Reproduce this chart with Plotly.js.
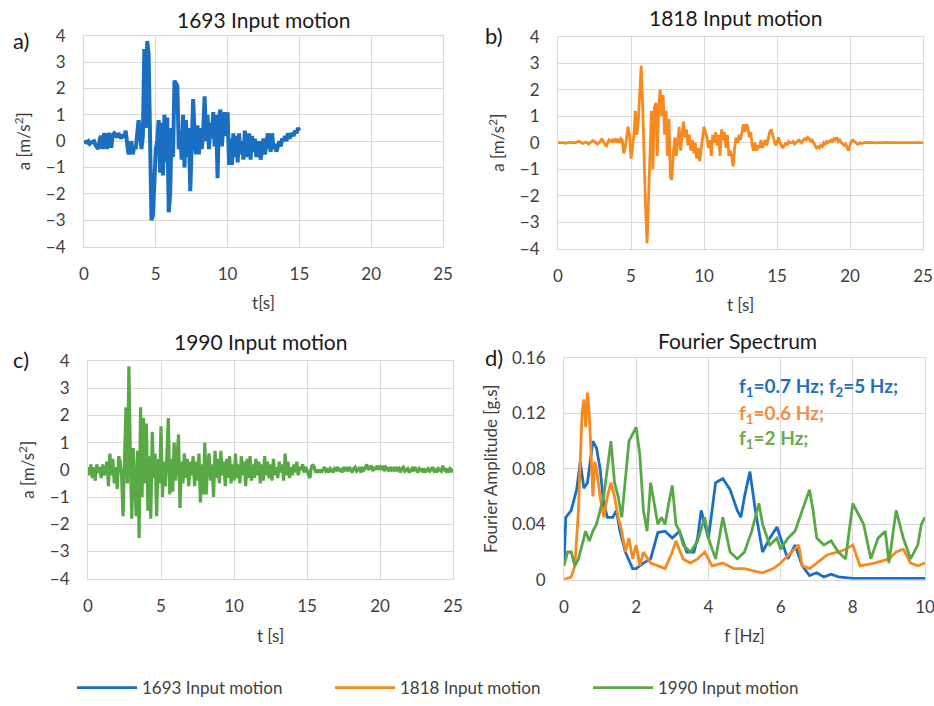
<!DOCTYPE html>
<html>
<head>
<meta charset="utf-8">
<script src="https://cdn.plot.ly/plotly-3.0.1.min.js"></script>
<style>html,body{margin:0;padding:0;background:#fff;}#chart{width:934px;height:706px;}</style>
</head>
<body>
<div id="chart"></div>
<script>
// ---- Data ----
const seriesNames = ["1693 Input motion", "1818 Input motion", "1990 Input motion"];
const dtSeconds = 0.1;

// 1693 acceleration [m/s2], sampled every 0.1 s from t = 0 to 15 s
const acc1693 = [
  0, -0.05, -0.05, 0, -0.1, -0.05, 0, 0, -0.15, -0.2,
  -0.3, 0.1, 0.2, -0.3, 0.3, 0.1, -0.3, 0.3, 0.2, -0.25,
  0.25, 0.3, 0.2, 0.15, 0.3, 0.2, 0.1, 0.25, 0.15, 0.4,
  -0.1, -0.5, -0.3, 0, -0.5, -0.2, -0.3, 0.2, 0.8, 0.3,
  -0.3, 0.2, 3.5, 0.5, 3.8, 3.3, -1.4, -3.0, -2.8, -1.0,
  -0.3, 0.0, 0.8, -1.2, 0.7, -1.3, 1.0, -0.8, 0.9, -2.7,
  -2.0, 0.5, -0.6, 2.3, 2.2, 2.1, -0.3, 0.4, -0.7, 1.0,
  -1.0, 0.8, -0.6, 0.5, -1.9, 0.2, 1.6, 0.3, -0.5, 0.6,
  -0.5, 0.5, -0.3, 0.4, 1.7, 0.0, 1.0, -0.3, 0.7, 0.1,
  1.1, -0.2, 1.0, -1.4, 0.9, 1.2, -0.2, 0.6, 1.1, 0.2,
  1.1, -0.9, 0.1, -0.9, 0.3, -0.6, 0.2, -0.8, 0.3, -0.5,
  0.0, -0.7, 0.4, -0.3, -0.6, 0.3, -0.7, 0.2, -0.4, 0.1,
  -0.6, -0.2, 0.0, -0.7, -0.3, 0.1, -0.5, -0.2, 0.3, -0.1,
  -0.4, 0.3, -0.3, -0.1, -0.4, -0.2, 0.0, -0.2, 0.1, 0.0,
  0.2, 0.0, 0.3, 0.1, 0.2, 0.3, 0.2, 0.4, 0.3, 0.5,
  0.4
];

// 1818 acceleration [m/s2], sampled every 0.1 s from t = 0 to 25 s
const acc1818 = [
  0, 0, 0, 0.02, 0, -0.02, 0, 0, 0.02, 0,
  0, -0.02, 0, 0.02, 0.05, 0.03, 0, -0.03, 0, 0.02,
  0, -0.05, 0, 0.05, 0.08, 0.05, 0, -0.05, 0, 0.05,
  0.15, 0.05, -0.1, -0.15, 0, 0.1, 0.05, 0.1, 0.02, 0.15,
  0.05, 0.1, 0, 0.15, 0.1, -0.4, -0.2, 0.2, 0.6, 0.3,
  -0.6, -0.2, 0.3, 1.2, 0.3, 0.8, 2.2, 2.9, 1.4, -0.8,
  -2.5, -3.8, -2.0, -0.5, 1.2, -1.0, 1.3, 1.5, -0.5, 1.4,
  2.0, 1.0, 1.8, 0.3, 1.2, -0.5, 0.9, -1.3, -1.4, -0.4,
  0.2, -0.5, 0.1, 0.6, -0.3, 0.3, 0.8, 0.2, 0.5, -0.1,
  0.3, -0.3, 0.1, -0.4, 0.0, -0.6, -0.2, -0.7, -0.3, 0.1,
  0.6, 0.4, 0.2, -0.2, 0.1, -0.5, 0.3, 0.0, 0.4, -0.1,
  0.3, -0.5, 0.5, 0.1, 0.4, -0.2, 0.3, -0.5, -0.3, -0.5,
  -0.9, -0.2, 0.2, 0.0, 0.3, 0.1, 0.5, 0.7, 0.4, 0.7,
  0.6, 0.2, 0.4, -0.1, -0.3, 0.0, -0.3, -0.1, -0.2, 0.1,
  -0.2, 0.0, 0.1, -0.1, 0.2, 0.4, 0.5, 0.3, 0.1, -0.1,
  0.0, 0.2, 0.0, -0.1, -0.2, -0.1, 0.0, -0.1, 0.05, 0.0,
  0.0, 0.05, -0.05, 0.0, 0.05, 0.1, 0.05, 0.0, 0.1, 0.15,
  0.1, 0.2, 0.15, 0.05, 0.1, 0.0, -0.1, -0.2, -0.15, -0.2,
  -0.1, -0.15, 0.0, -0.05, 0.05, 0.0, 0.05, 0.1, 0.05, 0.15,
  0.1, 0.2, 0.05, 0.1, 0.0, -0.05, -0.1, -0.05, -0.2, -0.3,
  -0.1, 0.05, 0.1, 0.05, 0.0, -0.05, -0.05, 0.0, -0.03, 0.0,
  0, 0.01, 0, -0.01, 0, 0.01, 0, 0, -0.01, 0,
  0.01, 0, 0, -0.01, 0, 0.01, 0, -0.01, 0, 0,
  0, 0.01, 0, 0, -0.01, 0, 0.01, 0, 0, -0.01,
  0, 0, 0.01, 0, -0.01, 0, 0, 0.01, 0, 0,
  0
];

// 1990 acceleration [m/s2], sampled every 0.1 s from t = 0 to 25 s
const acc1990 = [
  0.1, -0.2, 0.2, -0.3, 0.1, -0.4, 0.2, -0.1, 0.1, -0.3,
  0.2, -0.2, 0.0, 0.3, -0.6, 0.6, -0.2, 0.4, -0.5, 0.1,
  -0.7, 0.5, 0.3, -0.2, -1.7, 0.2, 2.3, -0.5, 3.8, 0.5,
  -1.8, 0.8, -0.5, -1.7, 0.7, -2.5, 2.3, -1.0, 1.9, -0.5,
  1.7, -1.5, 0.5, -1.8, 1.4, -0.3, 0.6, -1.7, 0.4, -0.5,
  1.6, -1.0, 0.3, -0.6, 0.5, 1.9, -0.9, 0.4, -0.8, 1.0,
  -0.4, 0.5, 1.3, -1.4, 0.3, -0.5, 0.6, -0.3, 0.4, -0.6,
  0.3, -0.2, 0.5, -0.6, 0.3, -0.4, 0.6, -1.2, 0.2, -0.9,
  1.0, -0.9, 0.3, 0.6, -0.4, 0.2, -1.0, 0.7, -0.3, 0.4,
  -0.5, 0.7, -0.2, 0.3, -0.6, 0.4, -0.3, 0.5, -0.5, 0.2,
  -0.4, 0.6, -0.3, 0.2, -0.5, 0.5, -0.2, 0.3, -0.6, 0.4,
  -0.3, 0.5, -0.4, 0.2, -0.3, 0.4, -0.2, 0.3, -0.5, 0.2,
  -0.4, 0.5, -0.2, 0.3, -0.3, 0.2, -0.4, 0.4, -0.2, 0.1,
  -0.3, 0.3, -0.1, 0.2, -0.4, 0.6, -0.2, 0.3, -0.3, 0.1,
  -0.2, 0.2, -0.1, 0.3, -0.2, 0.1, 0.0, 0.2, -0.1, 0.1,
  0.0, -0.2, -0.3, 0.1, 0.2, 0.1, -0.1, 0.0, -0.1, 0.0,
  -0.1, 0.0, 0.1, -0.05, 0.0, -0.1, 0.05, 0.0, -0.1, 0.05,
  0.0, 0.1, -0.05, 0.05, -0.1, 0.1, 0.0, 0.05, -0.05, 0.1,
  0.0, -0.1, 0.05, 0.1, -0.05, 0.0, 0.1, -0.1, 0.05, 0.0,
  0.1, 0.2, 0.0, 0.1, 0.15, -0.05, 0.1, 0.0, 0.15, 0.05,
  0.1, 0.0, 0.15, -0.05, 0.1, 0.05, -0.05, 0.1, 0.0, 0.05,
  -0.05, 0.1, 0.0, 0.05, -0.1, 0.05, 0.1, -0.05, 0.0, 0.05,
  -0.1, 0.0, 0.05, -0.05, 0.1, 0.0, -0.1, 0.05, 0.0, -0.05,
  0.05, -0.1, 0.0, 0.05, -0.05, 0.0, 0.1, -0.05, 0.0, -0.1,
  0.05, 0.0, -0.05, 0.15, 0.0, -0.05, 0.05, -0.1, 0.05, 0.0,
  -0.1
];

// Fourier spectra [g.s] vs frequency [Hz]
const freq1693 = [0, 0.05, 0.2, 0.35, 0.45, 0.55, 0.65, 0.8, 0.9, 1.0, 1.1, 1.2, 1.35, 1.45, 1.55, 1.7, 1.9, 2.0, 2.2, 2.4, 2.6, 2.8, 3.0, 3.2, 3.4, 3.6, 3.7, 3.8, 4.0, 4.2, 4.4, 4.6, 4.8, 4.9, 5.0, 5.15, 5.3, 5.5, 5.7, 5.9, 6.0, 6.2, 6.4, 6.6, 6.8, 7.0, 7.2, 7.4, 7.6, 8.0, 9.0, 10.0];
const amp1693  = [0.011, 0.045, 0.05, 0.065, 0.085, 0.066, 0.07, 0.1, 0.095, 0.08, 0.055, 0.045, 0.045, 0.05, 0.035, 0.02, 0.008, 0.008, 0.012, 0.015, 0.034, 0.035, 0.03, 0.035, 0.02, 0.02, 0.03, 0.05, 0.03, 0.07, 0.073, 0.065, 0.05, 0.045, 0.06, 0.078, 0.05, 0.02, 0.03, 0.038, 0.03, 0.015, 0.025, 0.01, 0.003, 0.005, 0.002, 0.004, 0.002, 0.001, 0.001, 0.001];

const freq1818 = [0, 0.2, 0.3, 0.4, 0.5, 0.55, 0.6, 0.65, 0.7, 0.75, 0.8, 0.85, 0.9, 1.0, 1.1, 1.2, 1.3, 1.4, 1.5, 1.6, 1.7, 1.8, 1.9, 2.0, 2.1, 2.2, 2.4, 2.6, 2.8, 3.0, 3.1, 3.3, 3.5, 3.7, 3.9, 4.1, 4.4, 4.7, 5.0, 5.3, 5.5, 5.8, 6.0, 6.3, 6.5, 6.6, 6.8, 7.0, 7.3, 7.6, 7.8, 8.0, 8.2, 8.6, 9.0, 9.2, 9.4, 9.6, 9.8, 10.0];
const amp1818  = [0.0, 0.002, 0.01, 0.05, 0.12, 0.13, 0.11, 0.135, 0.12, 0.09, 0.06, 0.085, 0.08, 0.06, 0.045, 0.06, 0.07, 0.06, 0.045, 0.035, 0.02, 0.03, 0.015, 0.025, 0.01, 0.02, 0.012, 0.01, 0.008, 0.02, 0.028, 0.015, 0.012, 0.015, 0.02, 0.01, 0.012, 0.008, 0.008, 0.006, 0.005, 0.008, 0.012, 0.02, 0.025, 0.01, 0.008, 0.012, 0.018, 0.02, 0.022, 0.025, 0.01, 0.012, 0.015, 0.02, 0.022, 0.012, 0.01, 0.012];

const freq1990 = [0, 0.1, 0.2, 0.3, 0.4, 0.5, 0.6, 0.7, 0.8, 0.9, 1.0, 1.1, 1.2, 1.3, 1.4, 1.5, 1.6, 1.7, 1.8, 1.9, 2.0, 2.1, 2.2, 2.3, 2.4, 2.5, 2.6, 2.7, 2.8, 2.9, 3.0, 3.1, 3.2, 3.3, 3.5, 3.7, 3.9, 4.0, 4.2, 4.4, 4.6, 4.8, 5.0, 5.2, 5.4, 5.5, 5.7, 5.9, 6.0, 6.2, 6.4, 6.6, 6.8, 6.9, 7.0, 7.2, 7.4, 7.6, 7.8, 8.0, 8.1, 8.3, 8.5, 8.7, 8.9, 9.0, 9.2, 9.4, 9.6, 9.8, 9.9, 10.0];
const amp1990  = [0.01, 0.02, 0.02, 0.01, 0.015, 0.025, 0.035, 0.028, 0.035, 0.04, 0.05, 0.06, 0.08, 0.1, 0.07, 0.06, 0.045, 0.07, 0.1, 0.105, 0.11, 0.09, 0.05, 0.035, 0.07, 0.055, 0.04, 0.045, 0.04, 0.055, 0.068, 0.04, 0.035, 0.025, 0.02, 0.028, 0.045, 0.03, 0.015, 0.045, 0.02, 0.015, 0.02, 0.035, 0.055, 0.04, 0.025, 0.03, 0.022, 0.03, 0.035, 0.05, 0.065, 0.05, 0.03, 0.025, 0.028, 0.02, 0.015, 0.055, 0.05, 0.04, 0.015, 0.03, 0.035, 0.012, 0.05, 0.03, 0.015, 0.025, 0.04, 0.045];

const spectrumNotes = ["f<sub>1</sub>=0.7 Hz; f<sub>2</sub>=5 Hz;", "f<sub>1</sub>=0.6 Hz;", "f<sub>1</sub>=2 Hz;"];
const accelTicks = [-4, -3, -2, -1, 0, 1, 2, 3, 4];
const timeTicks = [0, 5, 10, 15, 20, 25];
const freqTicks = [0, 2, 4, 6, 8, 10];
const ampTicks = [0, 0.04, 0.08, 0.12, 0.16];
const ampTickText = ["0", "0.04", "0.08", "0.12", "0.16"];

// ---- Build ----
function timeAxisFor(values) { return values.map((_, i) => +(i * dtSeconds).toFixed(2)); }

const colBlue = "#1b6fc2", colOrange = "#f7891f", colGreen = "#58a846";
const FONT = "Lato, 'Open Sans', sans-serif";
const grid = "#d9d9d9";
const tickFont = {family: FONT, size: 17, color: "#404040"};
const axTitleFont = {family: FONT, size: 17, color: "#404040"};

const traces = [
  {x: timeAxisFor(acc1693), y: acc1693, type: "scatter", mode: "lines", name: seriesNames[0], legendgroup: "a",
   line: {color: colBlue, width: 4}, xaxis: "x", yaxis: "y", showlegend: false},
  {x: timeAxisFor(acc1818), y: acc1818, type: "scatter", mode: "lines", name: seriesNames[1], legendgroup: "b",
   line: {color: colOrange, width: 2.8}, xaxis: "x2", yaxis: "y2", showlegend: false},
  {x: timeAxisFor(acc1990), y: acc1990, type: "scatter", mode: "lines", name: seriesNames[2], legendgroup: "c",
   line: {color: colGreen, width: 3.2}, xaxis: "x3", yaxis: "y3", showlegend: false},
  {x: freq1693, y: amp1693, type: "scatter", mode: "lines", name: seriesNames[0], legendgroup: "a",
   line: {color: colBlue, width: 2.8}, xaxis: "x4", yaxis: "y4"},
  {x: freq1818, y: amp1818, type: "scatter", mode: "lines", name: seriesNames[1], legendgroup: "b",
   line: {color: colOrange, width: 2.8}, xaxis: "x4", yaxis: "y4"},
  {x: freq1990, y: amp1990, type: "scatter", mode: "lines", name: seriesNames[2], legendgroup: "c",
   line: {color: colGreen, width: 2.8}, xaxis: "x4", yaxis: "y4"}
];

const W = 934, H = 706;
function dx(a, b) { return [a / W, b / W]; }
function dy(top, bottom) { return [1 - bottom / H, 1 - top / H]; }

function xAx(domain, anchor, ticks, range, title) {
  return {domain: domain, anchor: anchor, range: range, tickvals: ticks, showgrid: true, gridcolor: grid, gridwidth: 1,
    showline: true, linecolor: grid, mirror: true, zeroline: false, ticks: "", ticklabelstandoff: 12,
    ticklabeloverflow: "allow", tickfont: tickFont, title: {text: title, font: axTitleFont, standoff: 14}, fixedrange: true};
}
function yAx(domain, anchor, ticks, range, title, ticktext) {
  const o = {domain: domain, anchor: anchor, range: range, tickvals: ticks, showgrid: true, gridcolor: grid, gridwidth: 1,
    showline: true, linecolor: grid, mirror: true, zeroline: false, ticks: "", ticklabelstandoff: 14,
    tickfont: tickFont, title: {text: title, font: axTitleFont, standoff: 10}, fixedrange: true};
  if (ticktext) o.ticktext = ticktext;
  return o;
}

function label(text, xpx, ypx, size, color, anchor) {
  return {text: text, x: xpx / W, y: 1 - ypx / H, xref: "paper", yref: "paper", showarrow: false,
    xanchor: anchor || "center", yanchor: "middle", font: {family: FONT, size: size, color: color}};
}

const layout = {
  width: W, height: H, margin: {l: 0, r: 0, t: 0, b: 0}, paper_bgcolor: "#fff", plot_bgcolor: "#fff",
  font: {family: FONT, color: "#404040"},
  showlegend: true,
  legend: {orientation: "h", x: 72 / W, xanchor: "left", y: 1 - 692 / H, yanchor: "middle", itemwidth: 60,
    font: {family: FONT, size: 17, color: "#404040"}, entrywidth: 183, entrywidthmode: "pixels", traceorder: "normal"},
  xaxis:  xAx(dx(84, 443), "y", timeTicks, [0, 25], "t[s]"),
  yaxis:  yAx(dy(36, 248), "x", accelTicks, [-4, 4], "a [m/s<sup>2</sup>]"),
  xaxis2: xAx(dx(558, 923), "y2", timeTicks, [0, 25], "t [s]"),
  yaxis2: yAx(dy(37, 250), "x2", accelTicks, [-4, 4], "a [m/s<sup>2</sup>]"),
  xaxis3: xAx(dx(88, 453), "y3", timeTicks, [0, 25], "t [s]"),
  yaxis3: yAx(dy(363, 582), "x3", accelTicks, [-4, 4], "a [m/s<sup>2</sup>]"),
  xaxis4: xAx(dx(564, 925), "y4", freqTicks, [0, 10], "f [Hz]"),
  yaxis4: yAx(dy(360, 583), "x4", ampTicks, [0, 0.16], "Fourier Amplitude [g.s]", ampTickText),
  annotations: [
    label("1693 Input motion", 263, 20, 21, "#1a1a1a"),
    label("1818 Input motion", 735, 18, 21, "#1a1a1a"),
    label("1990 Input motion", 260, 343, 21, "#1a1a1a"),
    label("Fourier Spectrum", 737, 342, 21, "#1a1a1a"),
    label("a)", 21, 41, 22, "#1a1a1a"),
    label("b)", 494, 36, 22, "#1a1a1a"),
    label("c)", 21, 362, 22, "#1a1a1a"),
    label("d)", 494, 360, 22, "#1a1a1a"),
    label("<b>" + spectrumNotes[0] + "</b>", 737, 389, 19, "#1f6fbf", "left"),
    label("<b>" + spectrumNotes[1] + "</b>", 737, 416, 19, "#f0903f", "left"),
    label("<b>" + spectrumNotes[2] + "</b>", 737, 442, 19, "#6aaa50", "left")
  ]
};

Plotly.newPlot("chart", traces, layout, {staticPlot: true, displayModeBar: false});
</script>
</body>
</html>
